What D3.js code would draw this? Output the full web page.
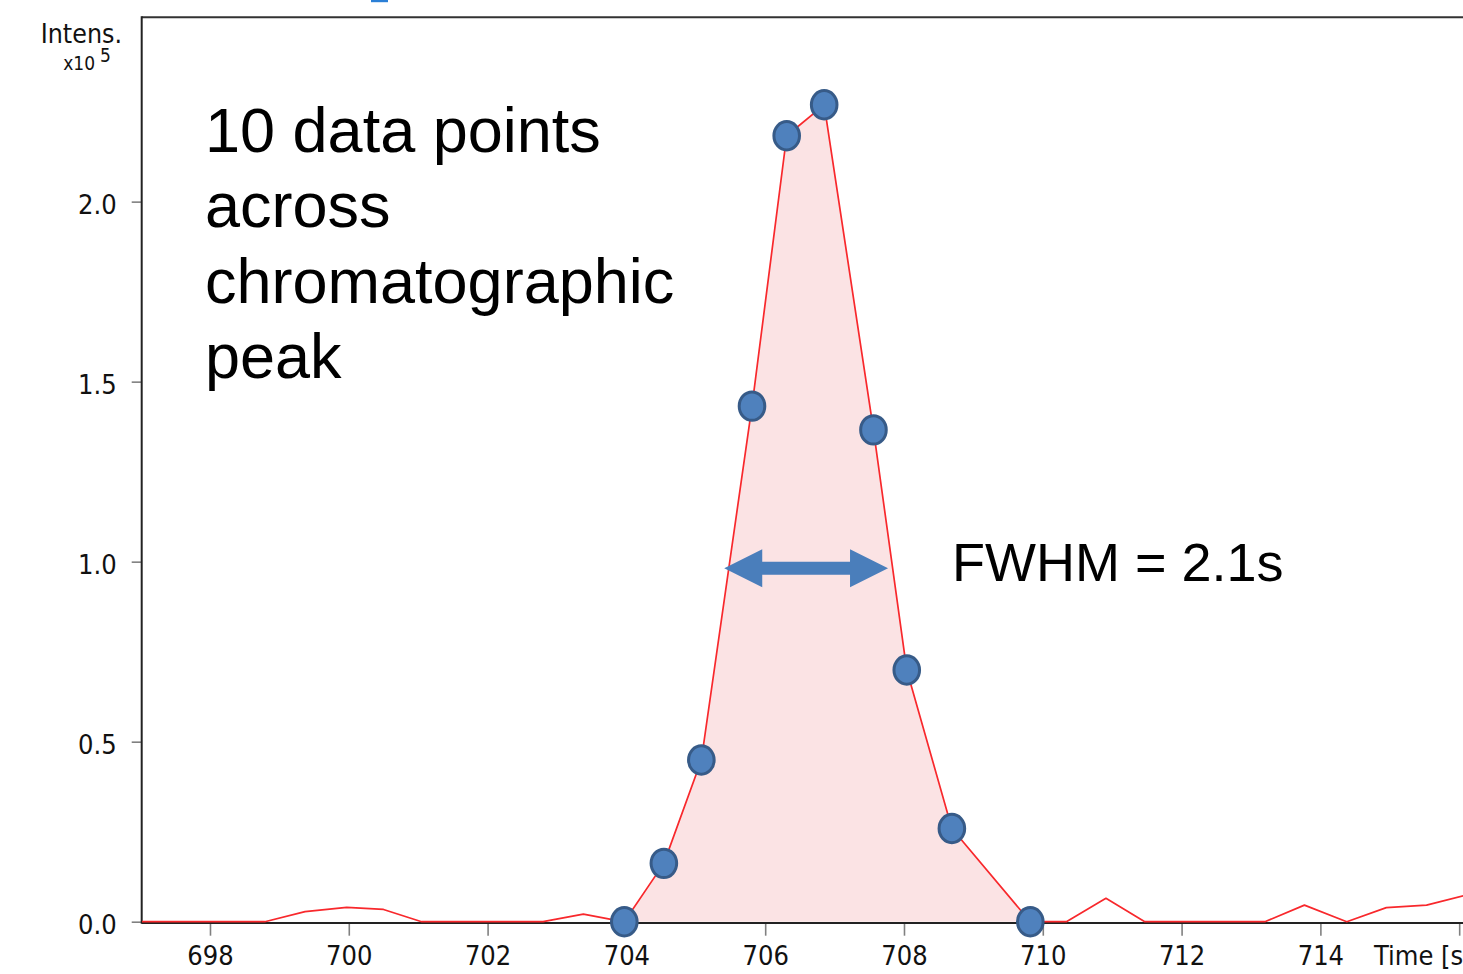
<!DOCTYPE html>
<html><head><meta charset="utf-8">
<script src="https://cdn.jsdelivr.net/npm/d3@7"></script>
<style>
html,body{margin:0;padding:0;background:#fff;overflow:hidden}
svg{display:block}
.ax text{font-family:"DejaVu Sans Condensed","DejaVu Sans",sans-serif;font-stretch:condensed}
</style></head><body>
<svg id="c" width="1463" height="974"></svg>
<script>
// ---- data (time in s, intensity in x10^5) ----
const traceTime = [697.02, 697.6, 698.2, 698.79, 699.37, 699.97, 700.50, 701.05, 701.6, 702.2, 702.80, 703.38, 703.76,
  703.97, 704.54, 705.08, 705.81, 706.31, 706.85, 707.56, 708.04, 708.69, 709.82,
  710.34, 710.91, 711.47, 712.0, 712.6, 713.20, 713.77, 714.38, 714.95, 715.53, 716.1];
const traceIntensity = [0, 0, 0, 0, 0.028, 0.040, 0.034, 0, 0, 0, 0, 0.021, 0.007,
  0, 0.162, 0.449, 1.432, 2.183, 2.269, 1.366, 0.699, 0.259, 0,
  0, 0.065, 0, 0, 0, 0, 0.046, 0, 0.039, 0.046, 0.074];
const pointTime = [703.97, 704.54, 705.08, 705.81, 706.31, 706.85, 707.56, 708.04, 708.69, 709.82];
const pointIntensity = [0, 0.162, 0.449, 1.432, 2.183, 2.269, 1.366, 0.699, 0.259, 0];
const xMajorTicks = [698, 700, 702, 704, 706, 708, 710, 712, 714, 716];
const xTickLabels = ["698", "700", "702", "704", "706", "708", "710", "712", "714", ""];
const xMinorTicks = [699, 701, 703, 705, 707, 709, 711, 713, 715, 717];
const yMajorTicks = [0, 0.5, 1.0, 1.5, 2.0];
const yTickLabels = ["0.0", "0.5", "1.0", "1.5", "2.0"];
const yMinorTicks = [0.1, 0.2, 0.3, 0.4, 0.6, 0.7, 0.8, 0.9, 1.1, 1.2, 1.3, 1.4, 1.6, 1.7, 1.8, 1.9, 2.1, 2.2, 2.3, 2.4, 2.5];
const annotationLines = ["10 data points", "across", "chromatographic", "peak"];
const fwhmLabel = "FWHM = 2.1s";
const fwhmStart = [705.41], fwhmEnd = [707.77], fwhmLevel = [0.982];
const yLabel = "Intens.", yUnit = "x10", yExp = "5", xLabel = "Time [s]";

// ---- layout ----
const L = 141.7, T = 17.3, B = 921.7;
const x = d3.scaleLinear().domain([697.016, 718]).range([L, L + (718 - 697.016) * 69.4]);
const y = d3.scaleLinear().domain([0, 2.512]).range([B, T]);

const svg = d3.select("#c");

svg.append("clipPath").attr("id", "clip").append("rect")
  .attr("x", L).attr("y", T - 20).attr("width", 2000).attr("height", B - T + 40);

// fill under peak
const pts = pointTime.map((t, i) => [t, pointIntensity[i]]);
svg.append("path").datum(pts)
  .attr("fill", "#fbe3e4")
  .attr("d", d3.area().x(d => x(d[0])).y0(y(0)).y1(d => y(d[1])));

// axes
const gy = svg.append("g").attr("class", "ax").attr("transform", `translate(${L},0)`);
gy.call(d3.axisLeft(y).tickValues(yMinorTicks).tickSize(6).tickFormat(""));
gy.call(d3.axisLeft(y).tickValues(yMajorTicks).tickSize(10).tickPadding(15)
  .tickFormat((d, i) => yTickLabels[i]));
gy.selectAll(".domain").remove();
gy.selectAll("line").attr("stroke", "#808080").attr("stroke-width", 1.6);
gy.selectAll("text").attr("font-size", 27).attr("fill", "#111").attr("dy", "0.45em");

const gx = svg.append("g").attr("class", "ax").attr("transform", `translate(0,${B + 1})`);
gx.call(d3.axisBottom(x).tickValues(xMinorTicks).tickSize(10).tickFormat(""));
gx.call(d3.axisBottom(x).tickValues(xMajorTicks).tickSize(13).tickPadding(10)
  .tickFormat((d, i) => xTickLabels[i]));
gx.selectAll(".domain").remove();
gx.selectAll("line").attr("stroke", "#808080").attr("stroke-width", 1.6);
gx.selectAll("text").attr("font-size", 27).attr("fill", "#111");

// frame
svg.append("line").attr("x1", L).attr("x2", 1463).attr("y1", T).attr("y2", T).attr("stroke", "#333").attr("stroke-width", 2);
svg.append("line").attr("x1", L).attr("x2", L).attr("y1", T - 1).attr("y2", B + 2).attr("stroke", "#222").attr("stroke-width", 2);
svg.append("line").attr("x1", L).attr("x2", 1463).attr("y1", B + 1.2).attr("y2", B + 1.2).attr("stroke", "#222").attr("stroke-width", 2);

// small blue marker at top edge
svg.append("rect").attr("x", 371).attr("y", 0).attr("width", 17).attr("height", 2.2).attr("fill", "#2b7fd6");

// trace line
const trace = traceTime.map((t, i) => [t, traceIntensity[i]]);
svg.append("path").datum(trace)
  .attr("clip-path", "url(#clip)")
  .attr("fill", "none").attr("stroke", "#f8282c").attr("stroke-width", 1.7).attr("stroke-linejoin", "round")
  .attr("d", d3.line().x(d => x(d[0])).y(d => y(d[1])));

// FWHM arrow
const x1 = x(fwhmStart[0]), x2 = x(fwhmEnd[0]), yc = y(fwhmLevel[0]);
const hl = 38, hh = 19, sh = 6.5;
const arrow = [[x1, yc], [x1 + hl, yc - hh], [x1 + hl, yc - sh], [x2 - hl, yc - sh], [x2 - hl, yc - hh], [x2, yc],
  [x2 - hl, yc + hh], [x2 - hl, yc + sh], [x1 + hl, yc + sh], [x1 + hl, yc + hh]];
svg.append("path").attr("d", d3.line()(arrow) + "Z").attr("fill", "#4a7ebb");

// data points
svg.append("g").selectAll("ellipse").data(pts).join("ellipse")
  .attr("cx", d => x(d[0])).attr("cy", d => y(d[1]))
  .attr("rx", 12.8).attr("ry", 14.2)
  .attr("fill", "#4f81bd").attr("stroke", "#375b88").attr("stroke-width", 3);

// axis titles
const ax = svg.append("g").attr("class", "ax");
ax.append("text").attr("x", 122).attr("y", 42.7).attr("text-anchor", "end")
  .attr("font-size", 26.5).attr("fill", "#111").text(yLabel);
ax.append("text").attr("x", 95).attr("y", 70).attr("text-anchor", "end")
  .attr("font-size", 19).attr("fill", "#111").text(yUnit);
ax.append("text").attr("x", 100).attr("y", 61.5).attr("font-size", 19).attr("fill", "#111").text(yExp);
ax.append("text").attr("x", 1374).attr("y", 964.5).attr("font-size", 27).attr("fill", "#111").text(xLabel);

// annotation text
const ann = svg.append("text")
  .attr("transform", "translate(205,151.7)")
  .attr("font-family", "'Liberation Sans', Arial, sans-serif")
  .attr("font-size", 63).attr("fill", "#000");
annotationLines.forEach((s, i) => ann.append("tspan").attr("x", 0).attr("y", i * 75.6).text(s));

svg.append("text").attr("x", 952).attr("y", 581)
  .attr("font-family", "'Liberation Sans', Arial, sans-serif")
  .attr("font-size", 54).attr("fill", "#000").text(fwhmLabel);
</script>
</body></html>
